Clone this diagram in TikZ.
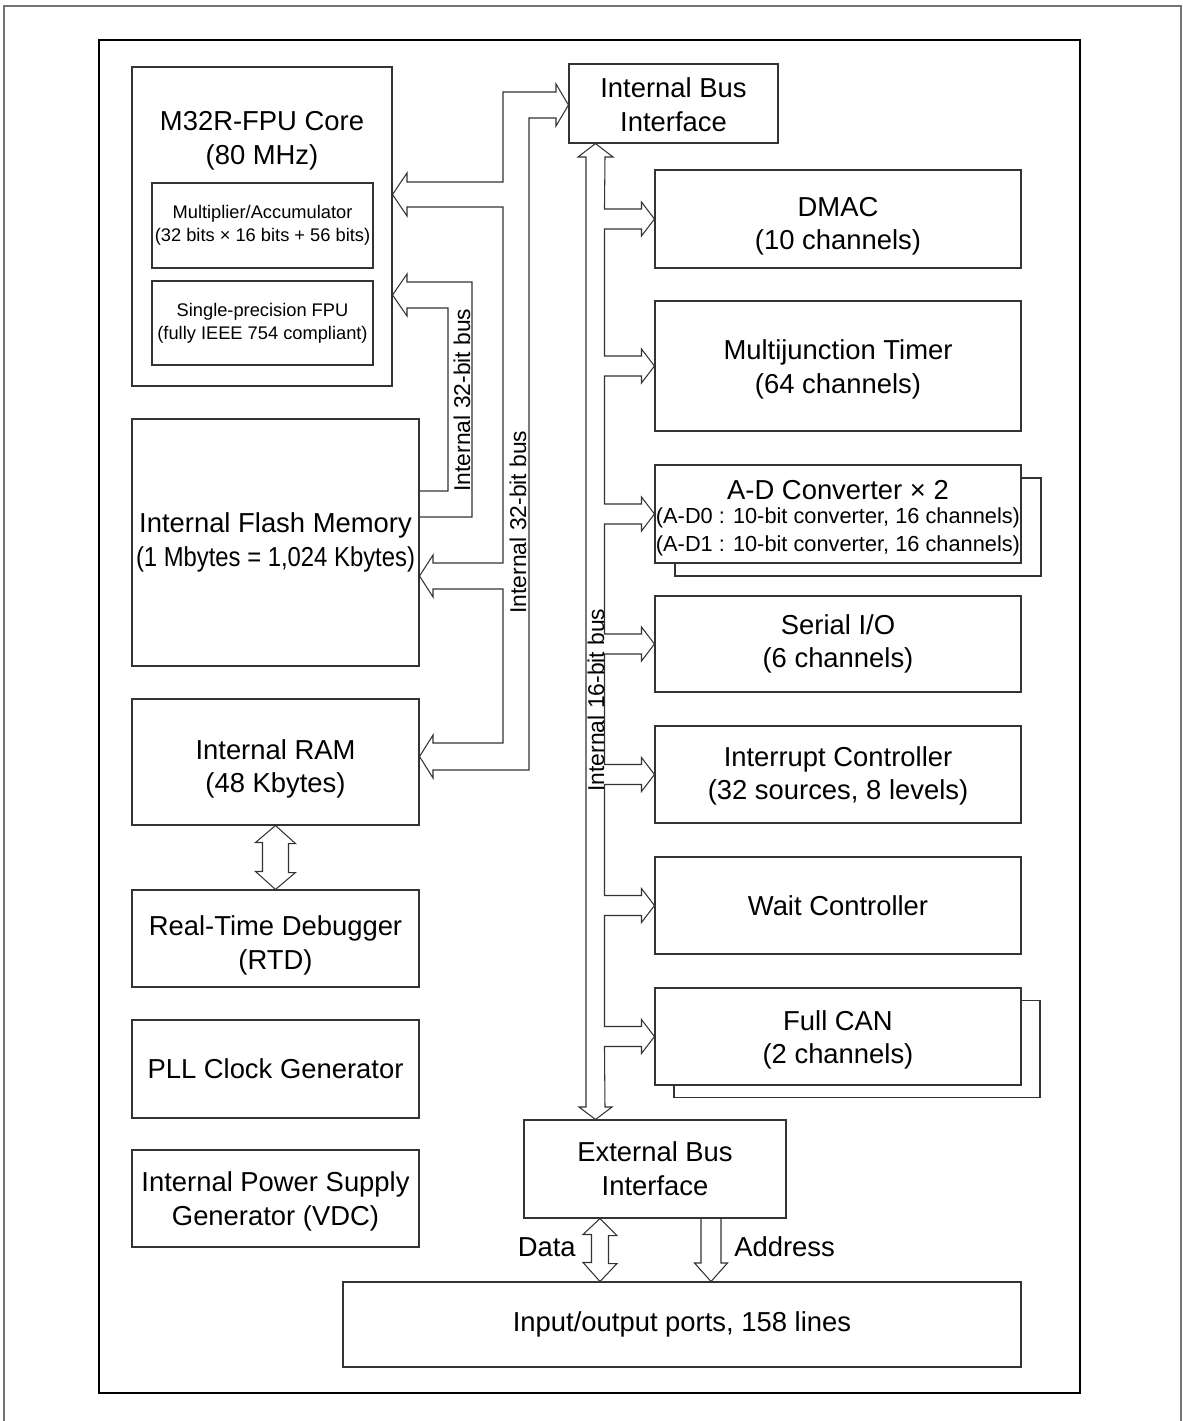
\documentclass[tikz,border=0pt]{standalone}
\usepackage{graphicx}
\usepackage{fontspec}
\setmainfont{Liberation Sans}
\usetikzlibrary{calc}
\newcommand{\mainsz}{\fontsize{15.6}{19.2}\selectfont}
\newcommand{\smallsz}{\fontsize{10.4}{13}\selectfont}
\newcommand{\adcsz}{\fontsize{12.4}{16}\selectfont}
\newcommand{\bussz}{\fontsize{13}{15}\selectfont}
\newcommand{\tdown}[1]{\rule{0pt}{#1}}

\begin{document}
\begin{tikzpicture}[x=0.02cm,y=-0.02cm,
    blk/.style 2 args={draw=black!80,line width=0.6pt,fill=white,inner sep=0pt,
      minimum width=#1*0.02cm,minimum height=#2*0.02cm,align=center,font=\mainsz},
    bus/.style={draw=black!80,line width=0.6pt,line join=miter},
    buslabel/.style={rotate=90,font=\bussz,inner sep=0pt}]
  \useasboundingbox (0,0) rectangle (1183,1421);
  \draw[black!55,line width=0.8pt] (4,6) rectangle (1181,1430);
  \draw[line width=1.3pt] (99,40) rectangle (1080,1393);

  % left column
  \node[blk={260}{319}] (core) at (262,226.5) {};
  \node[font=\mainsz,align=center] (coretitle) at (262,141) {M32R-FPU Core\\(80 MHz)};
  \node[blk={221}{85},font=\smallsz] (mac) at (262.5,225.5) {Multiplier/Accumulator\\(32 bits × 16 bits + 56 bits)};
  \node[blk={221}{84},font=\smallsz] (fpu) at (262.5,323) {Single-precision FPU\\(fully IEEE 754 compliant)};
  \node[blk={287}{247}] (flash) at (275.5,542.5) {Internal Flash Memory\\\scalebox{0.87}[1]{(1 Mbytes = 1,024 Kbytes)}};
  \node[blk={287}{126}] (ram) at (275.5,762) {\tdown{19.2pt}Internal RAM\\(48 Kbytes)};
  \node[blk={287}{97}] (rtd) at (275.5,938.5) {\tdown{19.2pt}Real-Time Debugger\\(RTD)};
  \node[blk={287}{98}] (pll) at (275.5,1069) {PLL Clock Generator};
  \node[blk={287}{97}] (vdc) at (275.5,1198.5) {\tdown{14.7pt}Internal Power Supply\\Generator (VDC)};

  % right column
  \node[blk={209}{79}] (ibi) at (673.5,103.5) {\tdown{13pt}Internal Bus\\Interface};
  \node[blk={366}{98}] (dmac) at (838,219) {\tdown{19.2pt}DMAC\\(10 channels)};
  \node[blk={366}{130}] (mjt) at (838,366) {\tdown{15.3pt}Multijunction Timer\\(64 channels)};
  \node[blk={366}{98}] (adcback) at (858,527) {};
  \node[blk={366}{98},font=\adcsz] (adc) at (838,514) {{\mainsz\tdown{15.8pt}A-D Converter × 2}\\[-2pt](A-D0 : 10-bit converter, 16 channels)\\(A-D1 : 10-bit converter, 16 channels)};
  \node[blk={366}{96}] (sio) at (838,644) {Serial I/O\\(6 channels)};
  \node[blk={366}{97}] (icu) at (838,774.5) {\tdown{13pt}Interrupt Controller\\(32 sources, 8 levels)};
  \node[blk={366}{97}] (wait) at (838,905.5) {Wait Controller};
  \node[blk={366}{97}] (canback) at (857,1049) {};
  \node[blk={366}{97}] (can) at (838,1036.5) {\tdown{15.3pt}Full CAN\\(2 channels)};
  \node[blk={262}{98}] (ebi) at (655,1169) {External Bus\\Interface};
  \node[blk={678}{85}] (io) at (682,1324.5) {Input/output ports, 158 lines};

  % buses
  \draw[bus] (407,182) -- (503,182) -- (503,92) -- (556,92) -- (556,84) -- (ibi.west |- 0,105) -- (556,126) -- (556,118)
    -- (529,118) -- (529,770) -- (433,770) -- (433,778) -- (ram.east |- 0,756.5) -- (433,735) -- (433,743)
    -- (503,743) -- (503,589) -- (433,589) -- (433,597) -- (flash.east |- 0,576) -- (433,555) -- (433,563)
    -- (503,563) -- (503,207) -- (407,207) -- (407,216) -- (core.east |- 0,194.5) -- (407,173) -- cycle;
  \draw[bus] (flash.east |- 0,491) -- (448,491) -- (448,308) -- (407,308) -- (407,316) -- (core.east |- 0,295)
    -- (407,274) -- (407,282) -- (472,282) -- (472,517) -- (flash.east |- 0,517);
  \draw[bus] (595.5,0 |- ibi.south) -- (613,157) -- (605,157)
    \foreach \b in {dmac,mjt,adc,sio,icu,wait,can}{
      -- ($(\b.west)+(-50,-10)$) -- ($(\b.west)+(-13,-10)$) -- ($(\b.west)+(-13,-17)$)
      -- (\b.west) -- ($(\b.west)+(-13,17)$) -- ($(\b.west)+(-13,10)$) -- ($(\b.west)+(-50,10)$)}
    -- (605,1107) -- (612,1107) -- (595.5,0 |- ebi.north) -- (579,1107) -- (586,1107)
    -- (586,157) -- (578,157) -- cycle;
  \draw[bus] (ram.south) -- ++(20,18) -- ++(-7,0) -- ++(0,29) -- ++(7,0) -- (rtd.north)
    -- ++(-20,-18) -- ++(7,0) -- ++(0,-29) -- ++(-7,0) -- cycle;
  \draw[bus] (600,0 |- ebi.south) -- ++(17,17) -- ++(-8.5,0) -- ++(0,28) -- ++(8.5,0) -- (600,0 |- io.north)
    -- ++(-17,-19) -- ++(8.5,0) -- ++(0,-28) -- ++(-8.5,0) -- cycle;
  \draw[bus] (701,0 |- ebi.south) -- (701,1263) -- (694.5,1263) -- (711,0 |- io.north) -- (727.5,1263)
    -- (721,1263) -- (721,0 |- ebi.south);

  \node[buslabel] (fpubus) at (462,400) {Internal 32-bit bus};
  \node[buslabel] (mainbus) at (518,522) {Internal 32-bit bus};
  \node[buslabel] (periphbus) at (596,700) {Internal 16-bit bus};
  \node[font=\mainsz,anchor=east,inner sep=0pt] (datalbl) at (576,1247) {Data};
  \node[font=\mainsz,anchor=west,inner sep=0pt] (addrlbl) at (734,1247) {Address};
\end{tikzpicture}
\end{document}
